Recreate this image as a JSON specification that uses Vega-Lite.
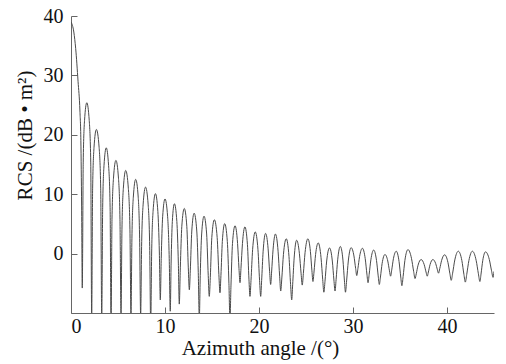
{
"$schema": "https://vega.github.io/schema/vega-lite/v6.json",
"width": 423, "height": 297,
"autosize": {"type": "none"},
"padding": {"left": 71, "top": 16, "right": 12, "bottom": 51},
"background": "white",
"data": {"values": [
{"x":0,"y":39},{"x":0.3,"y":37.3},{"x":0.5,"y":34.5},{"x":0.75,"y":29},{"x":0.95,"y":24},{"x":1.05,"y":19},{"x":1.13,"y":8},{"x":1.2,"y":-5.8},
{"x":1.3,"y":15.4},{"x":1.44,"y":22.4},{"x":1.68,"y":25.4},{"x":1.94,"y":22.4},{"x":2.1,"y":15.4},{"x":2.2,"y":-10.5},
{"x":2.3,"y":10.9},{"x":2.45,"y":17.9},{"x":2.7,"y":20.9},{"x":2.99,"y":17.9},{"x":3.16,"y":10.9},{"x":3.27,"y":-10.5},
{"x":3.37,"y":7.8},{"x":3.51,"y":14.8},{"x":3.75,"y":17.8},{"x":4.0,"y":14.8},{"x":4.16,"y":7.8},{"x":4.26,"y":-12},
{"x":4.36,"y":5.7},{"x":4.52,"y":12.7},{"x":4.78,"y":15.7},{"x":5.05,"y":12.7},{"x":5.21,"y":5.7},{"x":5.32,"y":-10.5},
{"x":5.42,"y":4},{"x":5.57,"y":11},{"x":5.82,"y":14},{"x":6.1,"y":11},{"x":6.27,"y":4},{"x":6.38,"y":-10.5},
{"x":6.48,"y":2.5},{"x":6.63,"y":9.5},{"x":6.88,"y":12.5},{"x":7.15,"y":9.5},{"x":7.3,"y":2.5},{"x":7.41,"y":-10.5},
{"x":7.51,"y":1.2},{"x":7.67,"y":8.2},{"x":7.93,"y":11.2},{"x":8.21,"y":8.2},{"x":8.37,"y":1.2},{"x":8.48,"y":-12},
{"x":8.58,"y":0.1},{"x":8.73,"y":7.1},{"x":8.98,"y":10.1},{"x":9.24,"y":7.1},{"x":9.4,"y":0.1},{"x":9.5,"y":-7.8},
{"x":9.6,"y":-0.8},{"x":9.75,"y":6.2},{"x":10.0,"y":9.2},{"x":10.28,"y":6.2},{"x":10.45,"y":-0.8},{"x":10.56,"y":-9.7},
{"x":10.65,"y":-1.6},{"x":10.78,"y":5.4},{"x":11.0,"y":8.4},{"x":11.26,"y":5.4},{"x":11.42,"y":-1.6},{"x":11.52,"y":-8.5},
{"x":11.63,"y":-2.4},{"x":11.79,"y":4.6},{"x":12.05,"y":7.6},{"x":12.32,"y":4.6},{"x":12.48,"y":-2.4},{"x":12.59,"y":-6.1},
{"x":12.69,"y":-2.9},{"x":12.85,"y":3.8},{"x":13.1,"y":6.8},{"x":13.38,"y":3.8},{"x":13.54,"y":-3.2},{"x":13.65,"y":-11},
{"x":13.75,"y":-3.7},{"x":13.9,"y":3.3},{"x":14.15,"y":6.3},{"x":14.43,"y":3.3},{"x":14.6,"y":-3.7},{"x":14.71,"y":-7.2},
{"x":14.82,"y":-4},{"x":14.98,"y":2.7},{"x":15.25,"y":5.7},{"x":15.55,"y":2.7},{"x":15.73,"y":-3.5},{"x":15.85,"y":-6.6},
{"x":15.95,"y":-3.7},{"x":16.1,"y":2.05},{"x":16.35,"y":5.05},{"x":16.63,"y":2.05},{"x":16.8,"y":-5},{"x":16.91,"y":-11},
{"x":17.02,"y":-5.3},{"x":17.18,"y":1.7},{"x":17.45,"y":4.7},{"x":17.72,"y":1.7},{"x":17.87,"y":-2.5},{"x":17.98,"y":-4.9},
{"x":18.08,"y":-2.55},{"x":18.24,"y":1.7},{"x":18.5,"y":4.5},{"x":18.77,"y":1.5},{"x":18.93,"y":-4.3},{"x":19.04,"y":-7.2},
{"x":19.15,"y":-4.5},{"x":19.32,"y":0.65},{"x":19.6,"y":3.65},{"x":19.89,"y":0.65},{"x":20.06,"y":-4.5},{"x":20.18,"y":-7.2},
{"x":20.28,"y":-4.55},{"x":20.44,"y":0.4},{"x":20.7,"y":3.4},{"x":20.97,"y":0.8},{"x":21.13,"y":-3.05},{"x":21.24,"y":-5.2},
{"x":21.34,"y":-3.1},{"x":21.5,"y":0.75},{"x":21.75,"y":3.3},{"x":22.03,"y":0.4},{"x":22.2,"y":-3.9},{"x":22.31,"y":-6.3},
{"x":22.43,"y":-4.1},{"x":22.6,"y":-0.14},{"x":22.9,"y":2.5},{"x":23.19,"y":-0.5},{"x":23.36,"y":-5.2},{"x":23.48,"y":-7.8},
{"x":23.58,"y":-5.25},{"x":23.74,"y":-0.75},{"x":24.0,"y":2.25},{"x":24.3,"y":-0.02},{"x":24.48,"y":-3.4},{"x":24.6,"y":-5.3},
{"x":24.72,"y":-3.35},{"x":24.9,"y":0.16},{"x":25.2,"y":2.5},{"x":25.47,"y":0.34},{"x":25.63,"y":-2.9},{"x":25.74,"y":-4.7},
{"x":25.85,"y":-3.1},{"x":26.02,"y":-0.15},{"x":26.3,"y":1.8},{"x":26.6,"y":-0.7},{"x":26.78,"y":-4.4},{"x":26.9,"y":-6.5},
{"x":27.02,"y":-4.65},{"x":27.2,"y":-1.25},{"x":27.5,"y":0.95},{"x":27.8,"y":-1.25},{"x":27.97,"y":-4.45},{"x":28.09,"y":-6.3},
{"x":28.2,"y":-4.4},{"x":28.37,"y":-1.05},{"x":28.65,"y":1.2},{"x":28.93,"y":-1.1},{"x":29.09,"y":-4.6},{"x":29.2,"y":-6.5},
{"x":29.32,"y":-4.6},{"x":29.5,"y":-1.25},{"x":29.8,"y":1.0},{"x":30.1,"y":-0.4},{"x":30.28,"y":-2.5},{"x":30.4,"y":-3.7},
{"x":30.52,"y":-2.55},{"x":30.7,"y":-0.5},{"x":31.0,"y":0.9},{"x":31.3,"y":-0.85},{"x":31.48,"y":-3.45},{"x":31.6,"y":-4.9},
{"x":31.72,"y":-3.5},{"x":31.9,"y":-1.05},{"x":32.2,"y":0.6},{"x":32.5,"y":-1.15},{"x":32.68,"y":-3.75},{"x":32.8,"y":-5.2},
{"x":32.92,"y":-3.95},{"x":33.1,"y":-1.65},{"x":33.4,"y":-0.15},{"x":33.7,"y":-1.25},{"x":33.88,"y":-2.9},{"x":34.0,"y":-3.8},
{"x":34.12,"y":-2.75},{"x":34.3,"y":-0.86},{"x":34.6,"y":0.4},{"x":34.9,"y":-1.34},{"x":35.08,"y":-3.95},{"x":35.2,"y":-5.4},
{"x":35.33,"y":-3.88},{"x":35.52,"y":-1.15},{"x":35.85,"y":0.67},{"x":36.22,"y":-0.79},{"x":36.45,"y":-2.98},{"x":36.6,"y":-4.2},
{"x":36.73,"y":-3.4},{"x":36.92,"y":-1.96},{"x":37.25,"y":-1.0},{"x":37.57,"y":-1.84},{"x":37.77,"y":-3.1},{"x":37.9,"y":-3.8},
{"x":38.02,"y":-3.1},{"x":38.2,"y":-1.84},{"x":38.5,"y":-1.0},{"x":38.8,"y":-1.69},{"x":38.98,"y":-2.73},{"x":39.1,"y":-3.3},
{"x":39.23,"y":-2.53},{"x":39.43,"y":-1.13},{"x":39.75,"y":-0.2},{"x":40.1,"y":-1.49},{"x":40.31,"y":-3.4},{"x":40.45,"y":-4.5},
{"x":40.6,"y":-3.3},{"x":40.83,"y":-1.07},{"x":41.2,"y":0.4},{"x":41.58,"y":-1.16},{"x":41.8,"y":-3.5},{"x":41.95,"y":-4.8},
{"x":42.1,"y":-3.5},{"x":42.33,"y":-1.16},{"x":42.7,"y":0.4},{"x":43.1,"y":-1.13},{"x":43.34,"y":-3.4},{"x":43.5,"y":-4.7},
{"x":43.62,"y":-3.45},{"x":43.8,"y":-1.2},{"x":44.1,"y":0.3},{"x":44.5,"y":-0.99},{"x":44.74,"y":-2.9},{"x":44.9,"y":-4.0},
{"x":45,"y":-3.0}
]},
"mark": {"type": "line", "interpolate": "monotone", "stroke": "#4a4a4a", "strokeWidth": 1, "clip": true},
"encoding": {
  "x": {"field": "x", "type": "quantitative",
        "scale": {"domain": [0, 45], "nice": false, "zero": false},
        "axis": {"values": [0, 10, 20, 30, 40], "title": "Azimuth angle /(°)", "grid": false,
                 "tickSize": -6, "labelPadding": 9, "titleX": 189, "titleY": 41, "titleBaseline": "alphabetic"}},
  "y": {"field": "y", "type": "quantitative",
        "scale": {"domain": [-10, 40], "nice": false},
        "axis": {"values": [0, 10, 20, 30, 40], "title": "RCS /(dB • m²)", "grid": false,
                 "tickSize": -6, "labelPadding": 14, "titleX": -46, "titleY": 119, "titleAngle": -90, "titleBaseline": "middle"}}
},
"config": {
  "view": {"stroke": null},
  "axis": {"domainColor": "#666", "tickColor": "#666", "labelFont": "Liberation Serif", "titleFont": "Liberation Serif",
           "labelFontSize": 20, "titleFontSize": 21, "titleFontWeight": "normal", "labelColor": "#111", "titleColor": "#111"}
}
}
